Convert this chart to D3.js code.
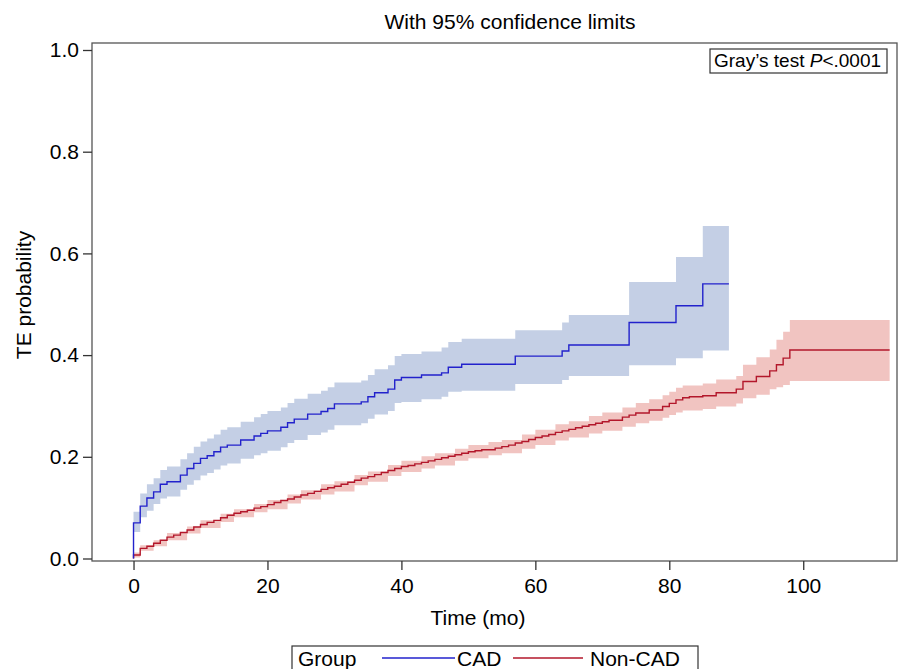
<!DOCTYPE html>
<html>
<head>
<meta charset="utf-8">
<script src="https://cdn.jsdelivr.net/npm/d3@7"></script>
<style>
  body { margin: 0; background: #fff; }
  svg text { font-family: "Liberation Sans", Arial, sans-serif; fill: #000; }
</style>
</head>
<body>
<div id="chart"></div>
<script>
// CAD group: step times (months), estimate and 95% limits
var cadTime = [0, 1, 2, 3, 4, 5, 7, 8, 9, 10, 11, 12, 13, 14, 16, 18, 19, 20, 22, 23, 24, 26, 28, 29, 30, 34, 35, 36, 38, 39, 40, 43, 46, 47, 49, 57, 64, 65, 74, 81, 85];
var cadEst  = [0.070, 0.103, 0.119, 0.131, 0.146, 0.151, 0.164, 0.177, 0.187, 0.197, 0.202, 0.210, 0.219, 0.223, 0.233, 0.241, 0.246, 0.251, 0.258, 0.267, 0.274, 0.284, 0.289, 0.295, 0.304, 0.308, 0.318, 0.326, 0.333, 0.351, 0.356, 0.361, 0.365, 0.376, 0.382, 0.398, 0.408, 0.420, 0.464, 0.497, 0.540];
var cadLow  = [0.052, 0.081, 0.094, 0.107, 0.118, 0.122, 0.135, 0.145, 0.154, 0.163, 0.168, 0.175, 0.183, 0.187, 0.196, 0.203, 0.207, 0.212, 0.219, 0.227, 0.233, 0.243, 0.248, 0.253, 0.262, 0.266, 0.275, 0.283, 0.290, 0.306, 0.308, 0.313, 0.318, 0.328, 0.330, 0.343, 0.351, 0.359, 0.380, 0.394, 0.409];
var cadHigh = [0.092, 0.128, 0.146, 0.158, 0.174, 0.181, 0.195, 0.207, 0.220, 0.230, 0.236, 0.244, 0.253, 0.258, 0.269, 0.278, 0.284, 0.290, 0.297, 0.306, 0.314, 0.324, 0.330, 0.337, 0.346, 0.350, 0.361, 0.372, 0.380, 0.398, 0.402, 0.407, 0.415, 0.426, 0.432, 0.449, 0.464, 0.479, 0.544, 0.593, 0.654];
var cadEnd = 88.9;

// Non-CAD group: step times and estimate
var nonTime = [0, 1, 2, 3, 4, 5, 6, 7, 8, 9, 10, 11, 12, 13, 14, 15, 16, 17, 18, 19, 20, 21, 22, 23, 24, 25, 26, 27, 28, 29, 30, 31, 32, 33, 34, 35, 36, 37, 38, 39, 40, 41, 42, 43, 44, 45, 46, 47, 48, 49, 50, 51, 52, 54, 55, 56, 57, 58, 59, 60, 61, 62, 63, 64, 65, 66, 67, 68, 69, 70, 71, 73, 74, 75, 77, 79, 80, 81, 82, 83, 85, 87, 90, 91, 93, 95, 96, 97, 98];
var nonEst  = [0.007, 0.020, 0.024, 0.030, 0.036, 0.042, 0.046, 0.051, 0.056, 0.062, 0.067, 0.071, 0.075, 0.080, 0.085, 0.089, 0.092, 0.095, 0.099, 0.102, 0.106, 0.110, 0.114, 0.117, 0.121, 0.125, 0.128, 0.132, 0.136, 0.139, 0.142, 0.146, 0.150, 0.154, 0.158, 0.161, 0.165, 0.169, 0.173, 0.177, 0.181, 0.183, 0.186, 0.189, 0.192, 0.195, 0.198, 0.201, 0.204, 0.207, 0.210, 0.212, 0.214, 0.217, 0.220, 0.223, 0.227, 0.230, 0.234, 0.238, 0.241, 0.244, 0.248, 0.251, 0.254, 0.257, 0.260, 0.263, 0.266, 0.269, 0.272, 0.278, 0.282, 0.286, 0.292, 0.299, 0.305, 0.312, 0.316, 0.318, 0.320, 0.326, 0.333, 0.348, 0.358, 0.369, 0.381, 0.394, 0.410];
// Non-CAD confidence band (coarser steps)
var nonBandTime = [0, 1, 3, 5, 8, 10, 13, 15, 18, 20, 23, 25, 28, 30, 33, 35, 38, 40, 43, 45, 48, 50, 53, 55, 58, 60, 63, 65, 68, 70, 73, 75, 77, 79, 80, 81, 82, 85, 87, 90, 91, 93, 95, 96, 97, 98];
var nonLow  = [0.002, 0.015, 0.024, 0.036, 0.049, 0.060, 0.072, 0.081, 0.091, 0.097, 0.108, 0.116, 0.126, 0.132, 0.144, 0.151, 0.162, 0.170, 0.177, 0.183, 0.192, 0.197, 0.203, 0.207, 0.216, 0.223, 0.232, 0.238, 0.246, 0.251, 0.259, 0.266, 0.271, 0.277, 0.282, 0.287, 0.291, 0.294, 0.299, 0.305, 0.315, 0.322, 0.333, 0.337, 0.341, 0.349];
var nonHigh = [0.012, 0.026, 0.036, 0.050, 0.063, 0.075, 0.088, 0.097, 0.107, 0.115, 0.126, 0.134, 0.146, 0.152, 0.164, 0.171, 0.184, 0.192, 0.201, 0.207, 0.216, 0.223, 0.229, 0.233, 0.244, 0.253, 0.264, 0.270, 0.280, 0.287, 0.297, 0.306, 0.313, 0.321, 0.328, 0.336, 0.340, 0.344, 0.352, 0.359, 0.381, 0.396, 0.411, 0.430, 0.446, 0.469];
var nonEnd = 112.9;

var xTicks = [0, 20, 40, 60, 80, 100];
var yTicks = [0.0, 0.2, 0.4, 0.6, 0.8, 1.0];

var W = 900, H = 669;
var frame = { left: 92, right: 897, top: 43, bottom: 561 };

var svg = d3.select("#chart").append("svg")
  .attr("width", W)
  .attr("height", H);

var x = d3.scaleLinear().domain([-6.2, 114]).range([frame.left, frame.right]);
var y = d3.scaleLinear().domain([0, 1]).range([558.5, 50]);

// build point lists, repeating the last value at the end time
function series(times, vals, end) {
  var pts = times.map(function(t, i) { return { t: t, v: vals[i] }; });
  pts.push({ t: end, v: vals[vals.length - 1] });
  return pts;
}
function band(times, lo, hi, end) {
  var pts = times.map(function(t, i) { return { t: t, lo: lo[i], hi: hi[i] }; });
  pts.push({ t: end, lo: lo[lo.length - 1], hi: hi[hi.length - 1] });
  return pts;
}

var area = d3.area().curve(d3.curveStepAfter)
  .x(function(d) { return x(d.t); })
  .y0(function(d) { return y(d.lo); })
  .y1(function(d) { return y(d.hi); });

var line = d3.line().curve(d3.curveStepAfter)
  .x(function(d) { return x(d.t); })
  .y(function(d) { return y(d.v); });

svg.append("path")
  .datum(band(cadTime, cadLow, cadHigh, cadEnd))
  .attr("d", area)
  .style("fill", "#c4cfe5");

svg.append("path")
  .datum(band(nonBandTime, nonLow, nonHigh, nonEnd))
  .attr("d", area)
  .style("fill", "#f1c4c1");

var cadPts = [{ t: 0, v: 0 }].concat(series(cadTime, cadEst, cadEnd));
var nonPts = [{ t: 0, v: 0 }].concat(series(nonTime, nonEst, nonEnd));

svg.append("path")
  .datum(nonPts)
  .attr("d", line)
  .style("fill", "none")
  .style("stroke", "#b3172b")
  .style("stroke-width", 1.4);

svg.append("path")
  .datum(cadPts)
  .attr("d", line)
  .style("fill", "none")
  .style("stroke", "#2222cc")
  .style("stroke-width", 1.4);

// frame
svg.append("rect")
  .attr("x", frame.left)
  .attr("y", frame.top)
  .attr("width", frame.right - frame.left)
  .attr("height", frame.bottom - frame.top)
  .style("fill", "none")
  .style("stroke", "#555")
  .style("stroke-width", 1.3);

// axes
var xAxis = svg.append("g")
  .attr("transform", "translate(0," + frame.bottom + ")")
  .call(d3.axisBottom(x).tickValues(xTicks).tickSize(9).tickPadding(8).tickFormat(d3.format("d")));

var yAxis = svg.append("g")
  .attr("transform", "translate(" + frame.left + ",0)")
  .call(d3.axisLeft(y).tickValues(yTicks).tickSize(9).tickPadding(4).tickFormat(d3.format(".1f")));

[xAxis, yAxis].forEach(function(g) {
  g.select(".domain").remove();
  g.selectAll(".tick line").style("stroke", "#333").style("stroke-width", 1.3);
  g.selectAll(".tick text").style("font-size", "21px").style("fill", "#000");
});

// title and labels
svg.append("text")
  .attr("x", 510)
  .attr("y", 29)
  .attr("text-anchor", "middle")
  .style("font-size", "21px")
  .text("With 95% confidence limits");

svg.append("text")
  .attr("x", 478)
  .attr("y", 625)
  .attr("text-anchor", "middle")
  .style("font-size", "21px")
  .text("Time (mo)");

svg.append("text")
  .attr("transform", "translate(31,295) rotate(-90)")
  .attr("text-anchor", "middle")
  .style("font-size", "21px")
  .text("TE probability");

// Gray's test box
svg.append("rect")
  .attr("x", 710).attr("y", 49)
  .attr("width", 177).attr("height", 24)
  .style("fill", "#fff")
  .style("stroke", "#333")
  .style("stroke-width", 1.2);

var gray = svg.append("text")
  .attr("x", 714)
  .attr("y", 67)
  .style("font-size", "19px");
gray.append("tspan").text("Gray\u2019s test ");
gray.append("tspan").style("font-style", "italic").text("P");
gray.append("tspan").text("<.0001");

// legend
var legend = svg.append("g");
legend.append("rect")
  .attr("x", 292).attr("y", 646)
  .attr("width", 406).attr("height", 40)
  .style("fill", "#fff")
  .style("stroke", "#333")
  .style("stroke-width", 1.2);

legend.append("text")
  .attr("x", 298).attr("y", 666)
  .style("font-size", "21px")
  .text("Group");

var legendItems = [
  { name: "CAD", color: "#2222cc", x1: 382, x2: 455, tx: 457 },
  { name: "Non-CAD", color: "#b3172b", x1: 513, x2: 583, tx: 590 }
];
legendItems.forEach(function(d) {
  legend.append("line")
    .attr("x1", d.x1).attr("x2", d.x2)
    .attr("y1", 658).attr("y2", 658)
    .style("stroke", d.color)
    .style("stroke-width", 1.4);
  legend.append("text")
    .attr("x", d.tx).attr("y", 666)
    .style("font-size", "21px")
    .text(d.name);
});
</script>
</body>
</html>
